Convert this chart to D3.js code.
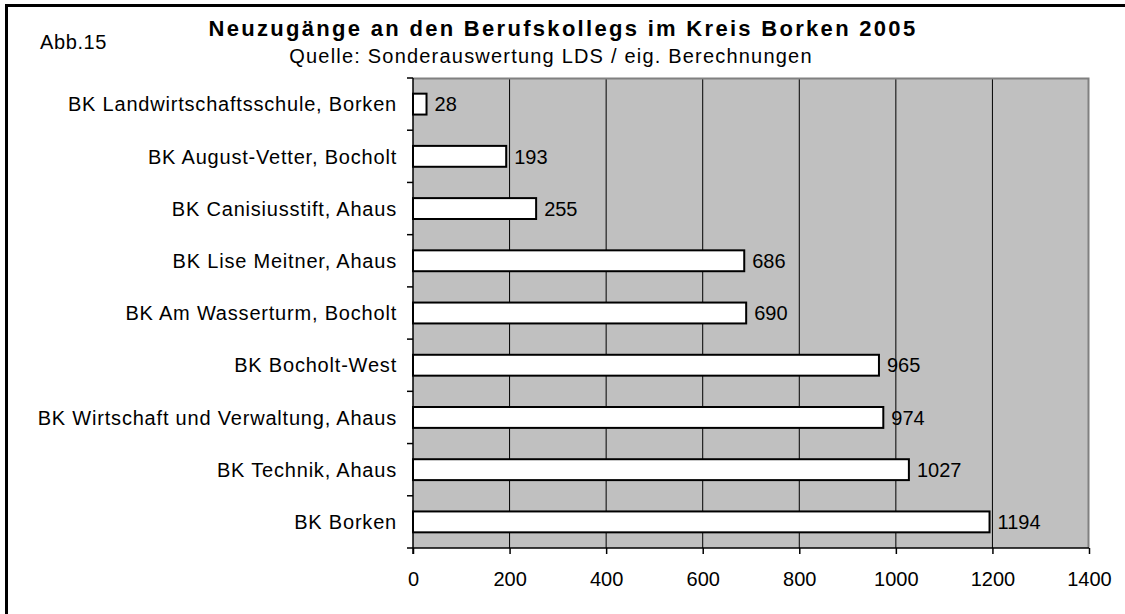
<!DOCTYPE html>
<html>
<head>
<meta charset="utf-8">
<script src="https://cdn.jsdelivr.net/npm/d3@7"></script>
<style>
  body { margin: 0; background: #fff; }
  text { font-family: "Liberation Sans", Arial, sans-serif; fill: #000; }
</style>
</head>
<body>
<div id="chart"></div>
<script>
'use strict'

// data
const schools = [
  'BK Landwirtschaftsschule, Borken',
  'BK August-Vetter, Bocholt',
  'BK Canisiusstift, Ahaus',
  'BK Lise Meitner, Ahaus',
  'BK Am Wasserturm, Bocholt',
  'BK Bocholt-West',
  'BK Wirtschaft und Verwaltung, Ahaus',
  'BK Technik, Ahaus',
  'BK Borken'
];
const newEntrants = [28, 193, 255, 686, 690, 965, 974, 1027, 1194];
const xTicks = [0, 200, 400, 600, 800, 1000, 1200, 1400];

const titleText = 'Neuzugänge an den Berufskollegs im Kreis Borken 2005';
const subtitleText = 'Quelle: Sonderauswertung LDS / eig. Berechnungen';
const figLabel = 'Abb.15';

const W = 1125, H = 614;
const margin = {left: 413, top: 78, right: 36, bottom: 66};
const width = W - margin.left - margin.right;
const height = H - margin.top - margin.bottom;

const data = schools.map((s, i) => ({name: s, value: newEntrants[i]}));

let svg = d3.select('#chart').append('svg')
  .attr('width', W)
  .attr('height', H);

// outer frame (only top and left edges are inside the picture)
svg.append('rect')
  .attr('x', 6.5).attr('y', 5.5)
  .attr('width', W + 20).attr('height', H + 20)
  .attr('fill', 'none')
  .attr('stroke', '#000')
  .attr('stroke-width', 3);

svg.append('text')
  .attr('x', 40).attr('y', 49)
  .attr('font-size', 20)
  .attr('letter-spacing', 0.6)
  .text(figLabel);

svg.append('text')
  .attr('x', 563).attr('y', 36)
  .attr('text-anchor', 'middle')
  .attr('font-size', 22)
  .attr('font-weight', 'bold')
  .attr('letter-spacing', 2.3)
  .text(titleText);

svg.append('text')
  .attr('x', 551).attr('y', 63)
  .attr('text-anchor', 'middle')
  .attr('font-size', 20)
  .attr('letter-spacing', 1.2)
  .text(subtitleText);

const x = d3.scaleLinear().domain([0, 1400]).range([0, width]);
const y = d3.scaleBand().domain(schools).range([0, height]).paddingInner(0.6).paddingOuter(0.3);
const yBand = d3.scaleBand().domain(schools).range([0, height]);

let g = svg.append('g')
  .attr('transform', 'translate(' + margin.left + ',' + margin.top + ')');

// plot background
g.append('rect')
  .attr('width', width).attr('height', height)
  .attr('fill', '#c0c0c0');

// vertical gridlines
g.selectAll('.grid').data(xTicks.slice(1, -1)).enter()
  .append('line')
    .attr('class', 'grid')
    .attr('x1', d => x(d)).attr('x2', d => x(d))
    .attr('y1', 0).attr('y2', height)
    .attr('stroke', '#000')
    .attr('stroke-width', 1);

// plot border top / right
g.append('path')
  .attr('d', 'M0,0.5H' + (width - 0.5) + 'V' + height)
  .attr('fill', 'none')
  .attr('stroke', '#808080')
  .attr('stroke-width', 2);

// bars
g.selectAll('.bar').data(data).enter()
  .append('rect')
    .attr('class', 'bar')
    .attr('x', 0)
    .attr('y', d => y(d.name))
    .attr('width', d => x(d.value))
    .attr('height', y.bandwidth())
    .attr('fill', '#fff')
    .attr('stroke', '#000')
    .attr('stroke-width', 2);

// value labels
g.selectAll('.val').data(data).enter()
  .append('text')
    .attr('class', 'val')
    .attr('x', d => x(d.value) + 8)
    .attr('y', d => y(d.name) + y.bandwidth() / 2)
    .attr('dy', '0.36em')
    .attr('font-size', 20)
    .text(d => d.value);

// x axis
let xAxis = g.append('g')
  .attr('transform', 'translate(0,' + height + ')')
  .call(d3.axisBottom(x).tickValues(xTicks).tickFormat(d3.format('d'))
    .tickSize(6).tickSizeOuter(0).tickPadding(18));
xAxis.select('.domain').attr('stroke', '#000').attr('stroke-width', 1.5)
  .attr('d', 'M-6,0H' + width);
xAxis.selectAll('.tick line').attr('stroke', '#000').attr('stroke-width', 1.5);
xAxis.selectAll('.tick text')
  .style('font-family', '"Liberation Sans", Arial, sans-serif')
  .attr('font-size', 20);

// y axis: tick marks between categories
g.append('line')
  .attr('x1', 0).attr('x2', 0)
  .attr('y1', 0).attr('y2', height + 6)
  .attr('stroke', '#000').attr('stroke-width', 1.5);
g.selectAll('.ytick').data(schools).enter()
  .append('line')
    .attr('class', 'ytick')
    .attr('x1', -6).attr('x2', 0)
    .attr('y1', d => yBand(d)).attr('y2', d => yBand(d))
    .attr('stroke', '#000').attr('stroke-width', 1.5);

g.selectAll('.ylab').data(schools).enter()
  .append('text')
    .attr('class', 'ylab')
    .attr('x', -16)
    .attr('y', d => yBand(d) + yBand.bandwidth() / 2)
    .attr('dy', '0.36em')
    .attr('text-anchor', 'end')
    .attr('font-size', 20)
    .attr('letter-spacing', 0.8)
    .text(d => d);
</script>
</body>
</html>
